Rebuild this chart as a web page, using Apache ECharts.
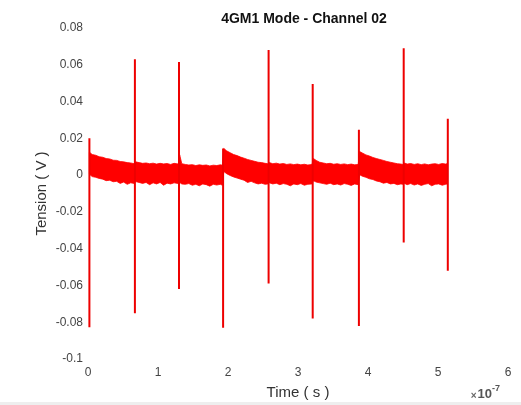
<!DOCTYPE html>
<html>
<head>
<meta charset="utf-8">
<script src="https://cdn.jsdelivr.net/npm/echarts@6/dist/echarts.min.js"></script>
<style>
html,body{margin:0;padding:0;background:#fff;}
#chart{width:521px;height:405px;}
</style>
</head>
<body>
<div id="chart"></div>
<script>
// ---- data (time in units of 1e-7 s, tension in V) ----
var xTicks = [0, 1, 2, 3, 4, 5, 6];
var yTicks = [-0.1, -0.08, -0.06, -0.04, -0.02, 0, 0.02, 0.04, 0.06, 0.08];

// spikes (time, max, min)
var spikeT  = [0.02, 0.67, 1.30, 1.93, 2.58, 3.21, 3.87, 4.51, 5.14];
var spikeHi = [0.020, 0.063, 0.0615, 0.0145, 0.068, 0.0496, 0.0247, 0.069, 0.0306];
var spikeLo = [-0.0827, -0.0751, -0.062, -0.083, -0.0589, -0.078, -0.082, -0.0367, -0.052];

// noise band envelope between spikes
var bandT = [
  0.02,0.06,0.11,0.16,0.21,0.26,0.31,0.36,0.41,0.46,0.51,0.56,0.61,0.66,
  0.68,0.73,0.78,0.83,0.88,0.93,0.98,1.03,1.08,1.13,1.18,1.23,1.29,
  1.31,1.34,1.39,1.44,1.49,1.54,1.59,1.64,1.69,1.74,1.79,1.84,1.89,1.92,
  1.94,1.98,2.03,2.08,2.13,2.18,2.23,2.28,2.33,2.38,2.43,2.48,2.53,2.57,
  2.59,2.64,2.69,2.74,2.79,2.84,2.89,2.94,2.99,3.04,3.09,3.14,3.20,
  3.22,3.26,3.31,3.36,3.41,3.46,3.51,3.56,3.61,3.66,3.71,3.76,3.81,3.86,
  3.88,3.92,3.97,4.02,4.07,4.12,4.17,4.22,4.27,4.32,4.37,4.42,4.47,4.50,
  4.52,4.56,4.61,4.66,4.71,4.76,4.81,4.86,4.91,4.96,5.01,5.06,5.11,5.13
];
var bandHi = [
  0.0125,0.0112,0.0108,0.0100,0.0097,0.0090,0.0088,0.0081,0.0080,0.0074,0.0072,0.0068,0.0066,0.0062,
  0.0072,0.0068,0.0064,0.0066,0.0062,0.0065,0.0060,0.0064,0.0061,0.0063,0.0058,0.0064,0.0060,
  0.0110,0.0062,0.0058,0.0055,0.0057,0.0052,0.0056,0.0053,0.0055,0.0050,0.0054,0.0052,0.0056,0.0054,
  0.0145,0.0132,0.0122,0.0112,0.0106,0.0098,0.0092,0.0085,0.0080,0.0075,0.0070,0.0068,0.0064,0.0062,
  0.0068,0.0062,0.0065,0.0060,0.0063,0.0058,0.0061,0.0057,0.0060,0.0056,0.0059,0.0055,0.0058,
  0.0090,0.0080,0.0070,0.0066,0.0062,0.0064,0.0059,0.0062,0.0058,0.0061,0.0057,0.0060,0.0056,0.0058,
  0.0128,0.0120,0.0110,0.0104,0.0096,0.0090,0.0085,0.0080,0.0074,0.0070,0.0066,0.0062,0.0060,0.0058,
  0.0066,0.0060,0.0063,0.0058,0.0062,0.0057,0.0061,0.0056,0.0060,0.0062,0.0058,0.0063,0.0060,0.0062
];
var bandLo = [
  0.0005,-0.0008,-0.0012,-0.0018,-0.0022,-0.0030,-0.0028,-0.0036,-0.0034,-0.0045,-0.0038,-0.0050,-0.0042,-0.0045,
  -0.0035,-0.0040,-0.0045,-0.0040,-0.0052,-0.0042,-0.0048,-0.0040,-0.0055,-0.0044,-0.0048,-0.0042,-0.0046,
  -0.0040,-0.0048,-0.0050,-0.0046,-0.0055,-0.0050,-0.0058,-0.0048,-0.0052,-0.0060,-0.0050,-0.0054,-0.0050,-0.0055,
  0.0020,0.0008,-0.0002,-0.0010,-0.0016,-0.0022,-0.0028,-0.0040,-0.0034,-0.0042,-0.0048,-0.0044,-0.0050,-0.0048,
  -0.0042,-0.0048,-0.0044,-0.0052,-0.0046,-0.0050,-0.0058,-0.0048,-0.0052,-0.0046,-0.0055,-0.0050,-0.0048,
  -0.0030,-0.0038,-0.0042,-0.0046,-0.0050,-0.0044,-0.0052,-0.0048,-0.0054,-0.0046,-0.0050,-0.0056,-0.0048,-0.0052,
  0.0002,-0.0006,-0.0012,-0.0020,-0.0024,-0.0032,-0.0036,-0.0044,-0.0040,-0.0048,-0.0045,-0.0052,-0.0048,-0.0050,
  -0.0045,-0.0052,-0.0046,-0.0054,-0.0048,-0.0056,-0.0050,-0.0046,-0.0058,-0.0050,-0.0048,-0.0055,-0.0050,-0.0048
];

// ---- build series data ----
var bandData = bandT.map(function (t, i) { return [t, bandHi[i], bandLo[i]]; });
var spikeData = [];
spikeT.forEach(function (t, i) {
  spikeData.push([t, spikeHi[i]]);
  spikeData.push([t, spikeLo[i]]);
  spikeData.push([t, '-']);
});

var RED = '#ff0000';
var chart = echarts.init(document.getElementById('chart'), null, {renderer: 'canvas'});
chart.setOption({
  animation: false,
  backgroundColor: '#ffffff',
  textStyle: {fontFamily: 'Liberation Sans, Arial, sans-serif'},
  title: [{
    text: '4GM1 Mode - Channel 02',
    left: 299, top: 7, textAlign: 'center',
    textStyle: {fontSize: 14, fontWeight: 'bold', color: '#111', fontFamily: 'Liberation Sans, Arial, sans-serif'}
  }, {
    text: '{m|×}{b|10}{s|-7}',
    right: 16, top: 379,
    textStyle: {
      rich: {
        m: {fontSize: 10, color: '#666', fontFamily: 'Liberation Sans, Arial', verticalAlign: 'bottom', padding: [0, 1, 0, 0]},
        b: {fontSize: 13, color: '#555', fontFamily: 'Liberation Sans, Arial', verticalAlign: 'bottom'},
        s: {fontSize: 9, color: '#555', fontFamily: 'Liberation Sans, Arial', verticalAlign: 'top', padding: [0, 0, 8, 0]}
      }
    }
  }],
  grid: {left: 88, right: 13, top: 28, bottom: 45, containLabel: false},
  xAxis: {
    type: 'value', min: xTicks[0], max: xTicks[xTicks.length - 1], interval: 1,
    name: 'Time ( s )', nameLocation: 'middle', nameGap: 26, nameMoveOverlap: false,
    nameTextStyle: {fontSize: 15, color: '#333'},
    axisLine: {show: false}, axisTick: {show: false}, splitLine: {show: false},
    axisLabel: {fontSize: 12, color: '#444', margin: 8}
  },
  yAxis: {
    type: 'value', min: yTicks[0], max: yTicks[yTicks.length - 1], interval: 0.02,
    name: 'Tension ( V )', nameLocation: 'middle', nameGap: 39, nameRotate: 90, nameMoveOverlap: false,
    nameTextStyle: {fontSize: 15, color: '#333'},
    axisLine: {show: false}, axisTick: {show: false}, splitLine: {show: false},
    axisLabel: {fontSize: 12, color: '#444', margin: 5,
      formatter: function (v) { return String(+v.toFixed(2)); }}
  },
  graphic: [{
    type: 'rect', left: 0, bottom: 0, shape: {width: 521, height: 3},
    style: {fill: '#eeeeee'}, silent: true
  }],
  series: [{
    type: 'custom',
    data: bandData,
    encode: {x: 0, y: [1, 2]},
    renderItem: function (params, api) {
      // whole band drawn once as a single polygon: upper edge forward, lower edge back
      if (params.dataIndexInside !== 0) return {type: 'group', children: []};
      var n = params.dataInsideLength, pts = [], k;
      for (k = 0; k < n; k++) pts.push(api.coord([api.value(0, k), api.value(1, k)]));
      for (k = n - 1; k >= 0; k--) pts.push(api.coord([api.value(0, k), api.value(2, k)]));
      return {type: 'polygon', shape: {points: pts},
        style: {fill: RED, stroke: RED, lineWidth: 0.8}};
    },
    z: 2
  }, {
    type: 'line',
    data: spikeData,
    showSymbol: false,
    connectNulls: false,
    lineStyle: {color: '#ee0000', width: 2},
    itemStyle: {color: '#ee0000'},
    z: 3
  }]
});
</script>
</body>
</html>
